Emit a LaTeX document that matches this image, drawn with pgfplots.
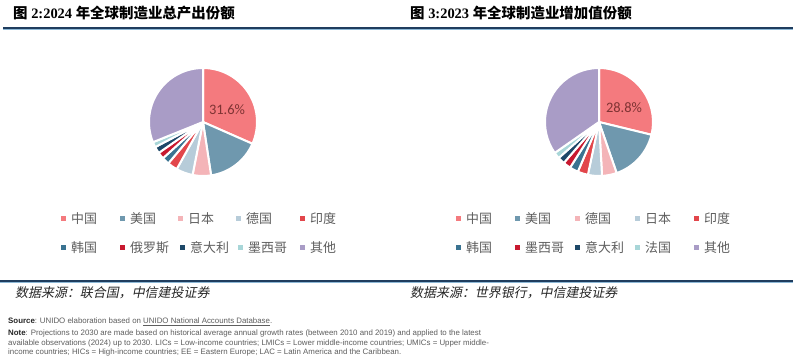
\documentclass[border=0pt]{standalone}
\usepackage{pgfplots}
\pgfplotsset{compat=1.18}
\usepackage{pgfplotstable}
\usepackage{fontspec}
\setmainfont{Liberation Serif}
\newfontfamily\cjk{Noto Sans CJK SC}
\newfontfamily\lbl{Carlito}
\newfontfamily\notef{Liberation Sans}

\definecolor{cChina}{HTML}{F47A7E}
\definecolor{cUSA}{HTML}{6F98AE}
\definecolor{cPink}{HTML}{F4B4B8}
\definecolor{cLightBlue}{HTML}{B7CCD9}
\definecolor{cIndia}{HTML}{E2464B}
\definecolor{cKorea}{HTML}{3A7391}
\definecolor{cRed2}{HTML}{C8192F}
\definecolor{cNavy}{HTML}{1D4868}
\definecolor{cTeal}{HTML}{A8D6D8}
\definecolor{cOther}{HTML}{A99CC6}
\definecolor{lineBlue}{HTML}{1F3D5E}
\definecolor{lineLight}{HTML}{8DB8D6}
\definecolor{txtGray}{HTML}{5E5E5E}
\definecolor{pctCol}{HTML}{7E3333}

\pgfplotstableread[col sep=comma]{
name,value,col
中国,31.6,cChina
美国,16.0,cUSA
日本,5.5,cPink
德国,5.0,cLightBlue
印度,3.0,cIndia
韩国,2.2,cKorea
俄罗斯,2.0,cRed2
意大利,2.0,cNavy
墨西哥,1.6,cTeal
其他,31.1,cOther
}\pieA

\pgfplotstableread[col sep=comma]{
name,value,col
中国,28.8,cChina
美国,15.9,cUSA
德国,4.4,cPink
日本,4.2,cLightBlue
印度,3.1,cIndia
韩国,2.6,cKorea
墨西哥,2.3,cRed2
意大利,2.1,cNavy
法国,1.9,cTeal
其他,34.7,cOther
}\pieB

\newcommand\drawpie[4]{%
  \pgfplotstablegetrowsof{#1}%
  \pgfmathtruncatemacro\lastrow{\pgfplotsretval-1}%
  \gdef\angA{90}%
  \foreach \i in {0,...,\lastrow}{%
    \pgfplotstablegetelem{\i}{value}\of{#1}\let\val\pgfplotsretval
    \pgfplotstablegetelem{\i}{col}\of{#1}\let\col\pgfplotsretval
    \pgfmathsetmacro\angB{\angA-3.6*\val}%
    \fill[fill=\col, draw=white, line width=2bp, line join=round]
      (axis cs:#2,#3) -- ++(\angA:#4bp) arc[start angle=\angA, end angle=\angB, radius=#4bp] -- cycle;
    \xdef\angA{\angB}%
  }%
}

% legend: table, list of positions
\newcommand\drawlegend[2]{%
  \foreach \i/\lx/\ly in {#2}{%
    \pgfplotstablegetelem{\i}{name}\of{#1}\let\nm\pgfplotsretval
    \pgfplotstablegetelem{\i}{col}\of{#1}\let\col\pgfplotsretval
    \fill[\col] (axis cs:\lx-2.5,{364-\ly-2.5}) rectangle (axis cs:\lx+2.5,{364-\ly+2.5});
    \node[anchor=west, inner sep=0pt, text=txtGray, font=\cjk\fontsize{13}{14}\selectfont]
      at (axis cs:\lx+8,{364-\ly}) {\nm};
  }%
}

\begin{document}
\begin{tikzpicture}
\useasboundingbox (0,0) rectangle (800bp,364bp);
\fill[white] (0,0) rectangle (800bp,364bp);
\begin{axis}[hide axis, scale only axis, x=1bp, y=1bp,
  xmin=0, xmax=800, ymin=0, ymax=364, clip=false,
  anchor=south west, at={(0,0)}]
\pgfplotsextra{%
  % header rules
  \draw[lineLight, line width=1bp] (axis cs:3,334.2) -- (axis cs:793,334.2);
  \draw[lineBlue, line width=2.6bp] (axis cs:3,336) -- (axis cs:793,336);
  \draw[lineLight, line width=1bp] (axis cs:0,81.2) -- (axis cs:793,81.2);
  \draw[lineBlue, line width=2.4bp] (axis cs:0,83) -- (axis cs:793,83);
  % titles
  \node[anchor=west, inner sep=0pt, font=\fontsize{14.5}{16}\selectfont\bfseries] at (axis cs:13,351)
    {{\cjk\bfseries 图} 2:2024 {\cjk\bfseries 年全球制造业总产出份额}};
  \node[anchor=west, inner sep=0pt, font=\fontsize{14.5}{16}\selectfont\bfseries] at (axis cs:410,351)
    {{\cjk\bfseries 图} 3:2023 {\cjk\bfseries 年全球制造业增加值份额}};
  % pies
  \drawpie{\pieA}{203}{242}{54}
  \drawpie{\pieB}{599}{242}{54}
  \node[text=pctCol, font=\lbl\fontsize{14.5}{16}\selectfont, inner sep=0pt] at (axis cs:227,254) {31.6\%};
  \node[text=pctCol, font=\lbl\fontsize{14.5}{16}\selectfont, inner sep=0pt] at (axis cs:624,256) {28.8\%};
  % legends
  \drawlegend{\pieA}{0/63/219,1/122/219,2/180/219,3/238/219,4/302/219,5/63/248,6/122/248,7/182/248,8/240/248,9/302/248}
  \drawlegend{\pieB}{0/458/219,1/517/219,2/577/219,3/637/219,4/696/219,5/458/248,6/517/248,7/577/248,8/637/248,9/696/248}
  % sources
  \node[anchor=west, inner sep=0pt, text=black!85, font=\cjk\fontsize{13}{14}\selectfont] at (axis cs:15,71)
    {\addfontfeature{FakeSlant=0.2}数据来源：联合国，中信建投证券};
  \node[anchor=west, inner sep=0pt, text=black!85, font=\cjk\fontsize{13}{14}\selectfont] at (axis cs:410,71)
    {\addfontfeature{FakeSlant=0.2}数据来源：世界银行，中信建投证券};
  % notes
  \node[anchor=west, inner sep=0pt, text=txtGray, font=\notef\fontsize{7.9}{9}\selectfont] at (axis cs:8,42)
    {{\color{black!85}\bfseries Source}: UNIDO elaboration based on \underline{UNIDO National Accounts Database}.};
  \node[anchor=west, inner sep=0pt, text=txtGray, font=\notef\fontsize{7.9}{9}\selectfont] at (axis cs:8,31)
    {{\color{black!85}\bfseries Note}: Projections to 2030 are made based on historical average annual growth rates (between 2010 and 2019) and applied to the latest};
  \node[anchor=west, inner sep=0pt, text=txtGray, font=\notef\fontsize{7.9}{9}\selectfont] at (axis cs:8,21)
    {available observations (2024) up to 2030. LICs = Low-income countries; LMICs = Lower middle-income countries; UMICs = Upper middle-};
  \node[anchor=west, inner sep=0pt, text=txtGray, font=\notef\fontsize{7.9}{9}\selectfont] at (axis cs:8,12)
    {income countries; HICs = High-income countries; EE = Eastern Europe; LAC = Latin America and the Caribbean.};
}
\end{axis}
\end{tikzpicture}
\end{document}
